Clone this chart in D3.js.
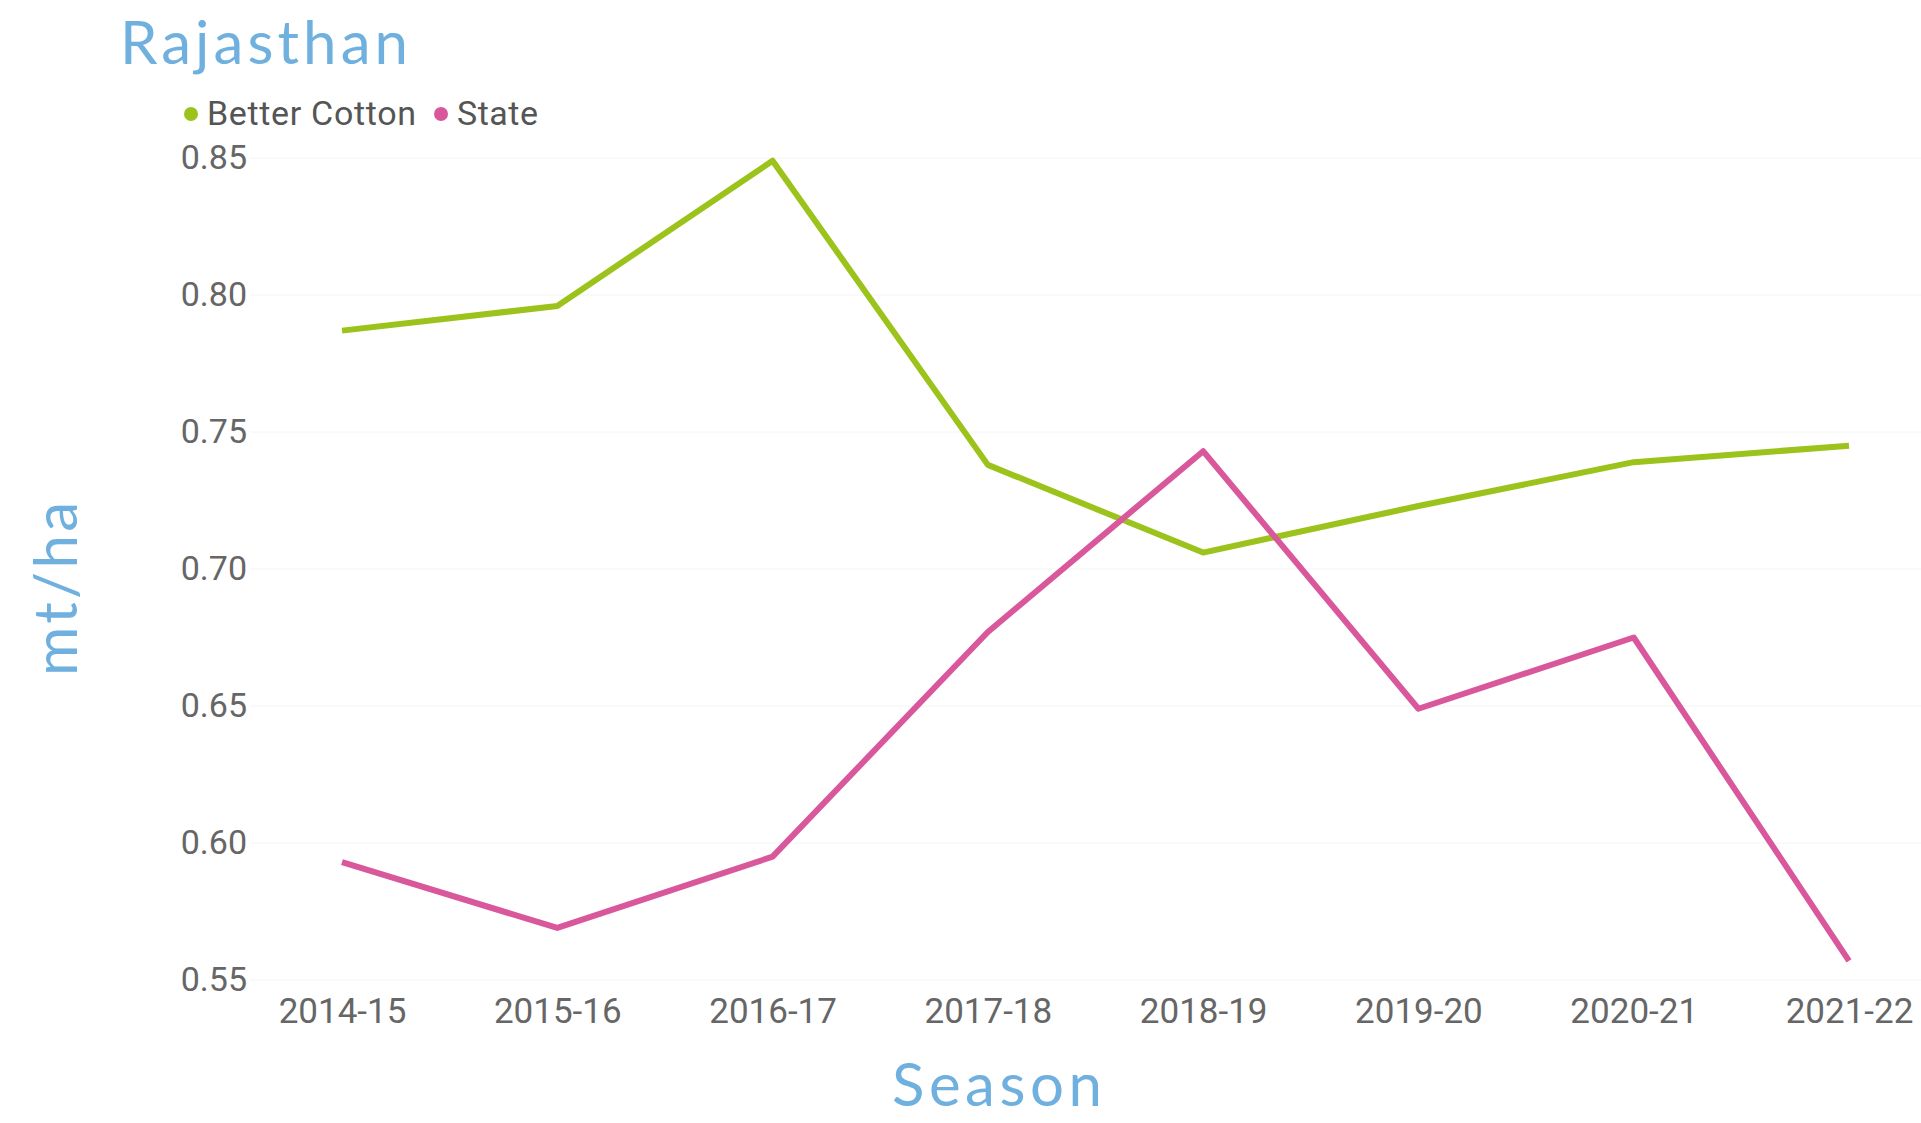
<!DOCTYPE html>
<html>
<head>
<meta charset="utf-8">
<script src="https://cdnjs.cloudflare.com/ajax/libs/d3/7.8.5/d3.min.js"></script>
<style>
    body { margin: 0; background: #fff; }
    svg { display: block; }
</style>
</head>
<body>
<svg id="line-chart" width="1921" height="1123"></svg>
<script>
    var seasons = ["2014-15", "2015-16", "2016-17", "2017-18", "2018-19", "2019-20", "2020-21", "2021-22"];
    var betterCotton = [0.787, 0.796, 0.849, 0.738, 0.706, 0.723, 0.739, 0.745];
    var stateYield = [0.593, 0.569, 0.595, 0.677, 0.743, 0.649, 0.675, 0.557];
    var yTicks = [0.55, 0.60, 0.65, 0.70, 0.75, 0.80, 0.85];
    var seriesNames = ["Better Cotton", "State"];

    var colors = {"Better Cotton": "#9cc31b", "State": "#d9589c"};
    var blue = "#6fb0de";

    var svg = d3.select("#line-chart"),
        width = +svg.attr("width"),
        height = +svg.attr("height");

    var x = d3.scalePoint().domain(seasons).range([342, 1849]);
    var y = d3.scaleLinear().domain([0.55, 0.85]).range([980, 158]);

    // faint gridlines
    svg.append("g").selectAll("line")
        .data(yTicks)
        .enter().append("line")
        .attr("x1", 250).attr("x2", width)
        .attr("y1", function(d) { return y(d); })
        .attr("y2", function(d) { return y(d); })
        .attr("stroke", "#f4f4f4")
        .attr("stroke-width", 1);

    var yAxis = d3.axisLeft(y).tickValues(yTicks).tickFormat(d3.format(".2f")).tickSize(0).tickPadding(0);
    svg.append("g")
        .attr("transform", "translate(247,0)")
        .call(yAxis)
        .call(function(g) { g.select(".domain").remove(); })
        .selectAll("text")
        .attr("fill", "#666")
        .style("font-family", "Roboto")
        .style("font-size", "34px");

    var xAxis = d3.axisBottom(x).tickSize(0).tickPadding(0);
    svg.append("g")
        .attr("transform", "translate(0,998)")
        .call(xAxis)
        .call(function(g) { g.select(".domain").remove(); })
        .selectAll("text")
        .attr("fill", "#666")
        .style("font-family", "Roboto")
        .style("font-size", "35px");

    var line = d3.line()
        .x(function(d, i) { return x(seasons[i]); })
        .y(function(d) { return y(d); });

    [betterCotton, stateYield].forEach(function(vals, n) {
        svg.append("path")
            .attr("d", line(vals))
            .attr("fill", "none")
            .attr("stroke", colors[seriesNames[n]])
            .attr("stroke-width", 6)
            .attr("stroke-linejoin", "round");
    });

    // legend
    var legendX = [191, 441];
    var legendW = [209, 81];
    var legend = svg.append("g");
    seriesNames.forEach(function(name, i) {
        legend.append("circle")
            .attr("cx", legendX[i]).attr("cy", 114).attr("r", 7)
            .attr("fill", colors[name]);
        legend.append("text")
            .text(name)
            .attr("x", legendX[i] + 16).attr("y", 125)
            .attr("fill", "#555")
            .attr("textLength", legendW[i])
            .style("font-family", "Roboto")
            .style("font-size", "34px");
    });

    // titles
    svg.append("text")
        .text("Rajasthan")
        .attr("x", 120).attr("y", 64)
        .attr("fill", blue)
        .attr("textLength", 288)
        .style("font-family", "Lato")
        .style("font-size", "60px");

    svg.append("text")
        .text("Season")
        .attr("x", 997).attr("y", 1106)
        .attr("fill", blue)
        .attr("text-anchor", "middle")
        .attr("textLength", 210)
        .style("font-family", "Lato")
        .style("font-size", "60px");

    svg.append("text")
        .text("mt/ha")
        .attr("transform", "translate(77,589) rotate(-90)")
        .attr("fill", blue)
        .attr("text-anchor", "middle")
        .attr("textLength", 174)
        .style("font-family", "Lato")
        .style("font-size", "60px");
</script>
</body>
</html>
